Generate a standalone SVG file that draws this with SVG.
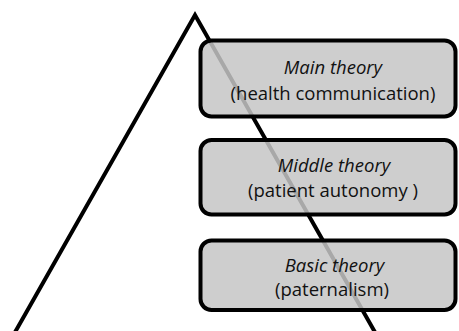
<svg xmlns="http://www.w3.org/2000/svg" width="459" height="331" viewBox="0 0 459 331">
<style>
.box{fill:#c6c6c6;fill-opacity:0.85;stroke:#000;stroke-width:4}
.t{font-family:"Open Sans","Noto Sans",sans-serif;font-size:18.5px;fill:#111;text-anchor:middle}
.i{font-style:italic}
.edge{fill:none;stroke:#000;stroke-width:4;stroke-linejoin:miter}
</style>
<g id="connectors">
<polyline class="edge" points="14,334 195,15 376,334"/>
</g>
<g id="main">
<rect class="box" x="200.5" y="40.5" width="255" height="76" rx="11"/>
<text class="t i" x="333" y="74">Main theory</text>
<text class="t" x="333" y="100">(health communication)</text>
</g>
<g id="middle">
<rect class="box" x="200.5" y="140" width="255" height="74.5" rx="11"/>
<text class="t i" x="334" y="172">Middle theory</text>
<text class="t" x="333" y="197">(patient autonomy )</text>
</g>
<g id="basic">
<rect class="box" x="200.5" y="240.5" width="255" height="69.5" rx="11"/>
<text class="t i" x="334.5" y="271.5">Basic theory</text>
<text class="t" x="332" y="295.5">(paternalism)</text>
</g>
</svg>
